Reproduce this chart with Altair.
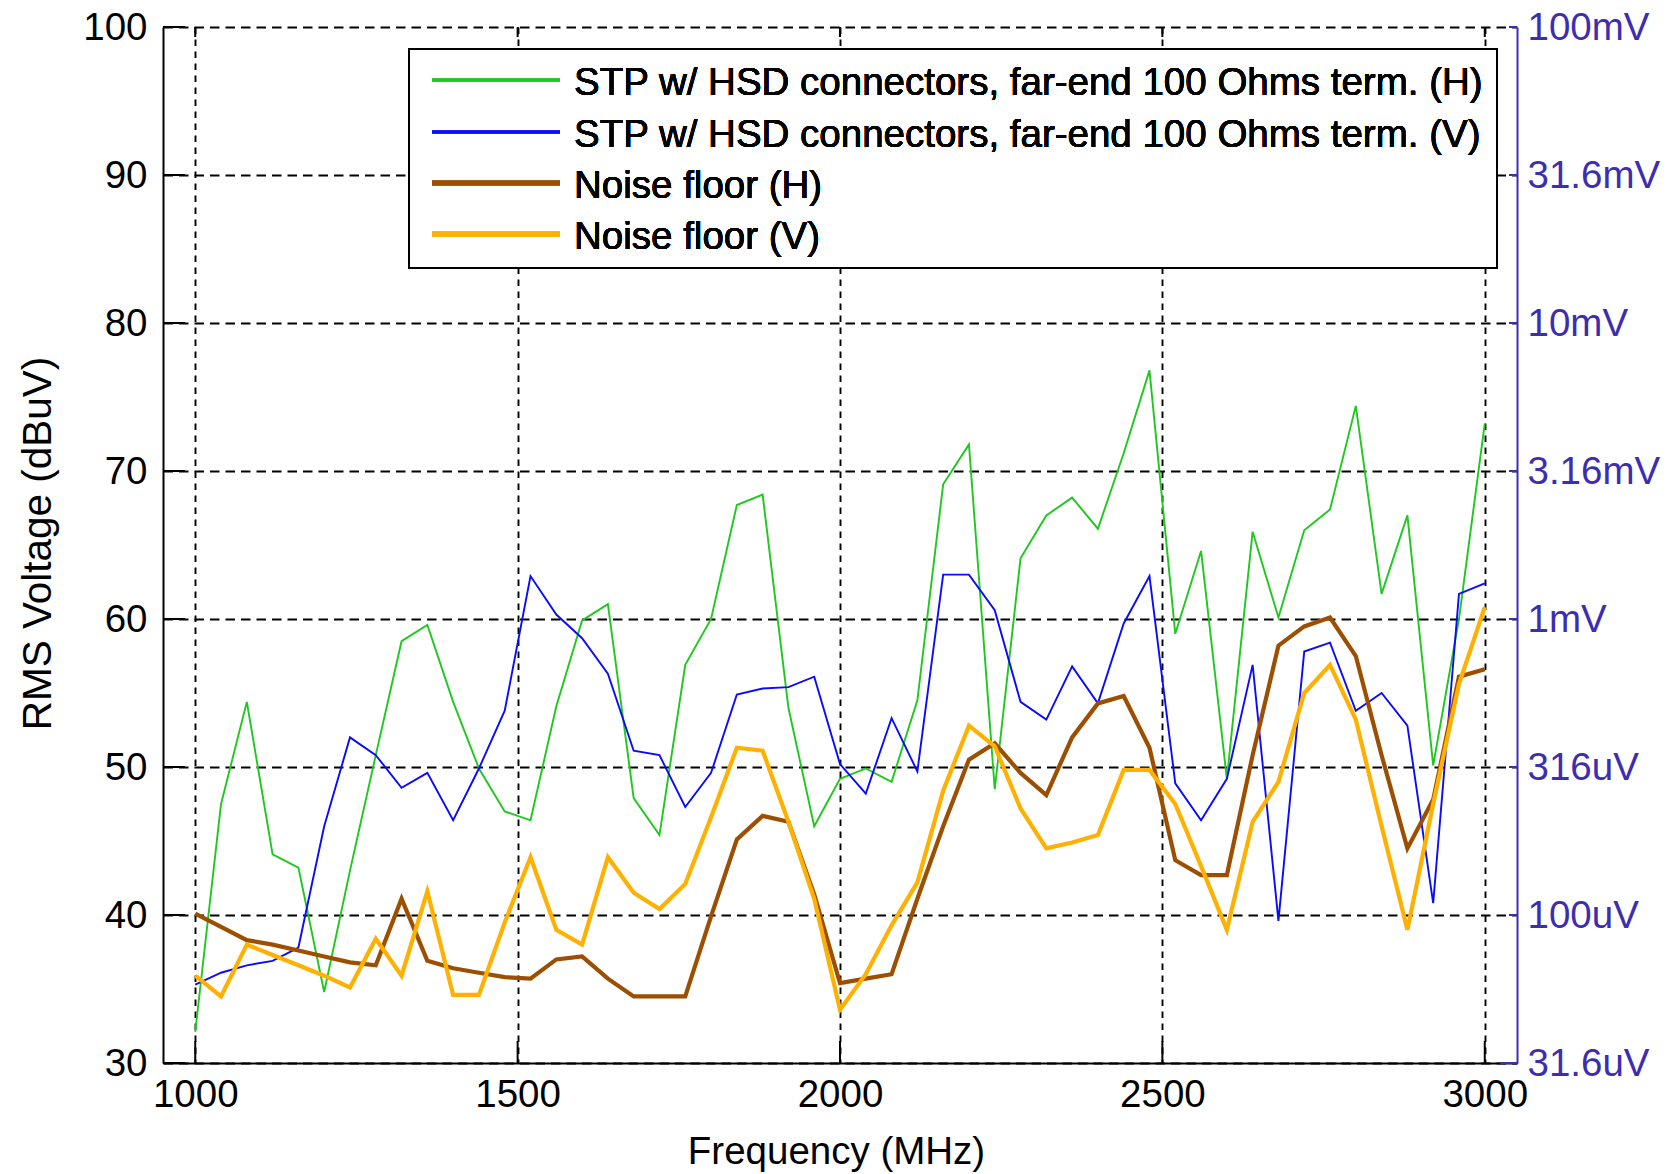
import altair as alt
import pandas as pd

# ---------------- data ----------------
freq_mhz = [1000, 1040, 1080, 1120, 1160, 1200, 1240, 1280, 1320, 1360,
            1400, 1440, 1480, 1520, 1560, 1600, 1640, 1680, 1720, 1760,
            1800, 1840, 1880, 1920, 1960, 2000, 2040, 2080, 2120, 2160,
            2200, 2240, 2280, 2320, 2360, 2400, 2440, 2480, 2520, 2560,
            2600, 2640, 2680, 2720, 2760, 2800, 2840, 2880, 2920, 2960, 3000]

stp_h = [32.1, 47.5, 54.4, 44.1, 43.2, 34.8, 43.0, 50.8, 58.5, 59.6,
         54.4, 49.9, 47.0, 46.4, 54.1, 59.9, 61.0, 47.9, 45.4, 56.9,
         60.0, 67.7, 68.4, 54.0, 46.0, 49.2, 49.9, 49.0, 54.5, 69.1,
         71.8, 48.5, 64.1, 67.0, 68.2, 66.1, 71.2, 76.8, 59.0, 64.6,
         49.2, 65.9, 60.1, 66.0, 67.4, 74.4, 61.7, 67.0, 50.1, 60.0, 73.2]

stp_v = [35.3, 36.1, 36.6, 36.9, 37.8, 46.0, 52.0, 50.8, 48.6, 49.6,
         46.4, 49.9, 53.8, 62.9, 60.3, 58.7, 56.3, 51.1, 50.8, 47.3,
         49.6, 54.9, 55.3, 55.4, 56.1, 50.2, 48.2, 53.3, 49.7, 63.0,
         63.0, 60.6, 54.4, 53.2, 56.8, 54.3, 59.7, 62.9, 48.9, 46.4,
         49.2, 56.9, 39.6, 57.8, 58.4, 53.8, 55.0, 52.8, 40.8, 61.7, 62.4]

noise_h = [40.1, 39.2, 38.3, 38.0, 37.6, 37.2, 36.8, 36.6, 41.1, 36.9,
           36.4, 36.1, 35.8, 35.7, 37.0, 37.2, 35.7, 34.5, 34.5, 34.5,
           39.9, 45.1, 46.7, 46.3, 41.4, 35.4, 35.7, 36.0, 41.1, 46.0,
           50.5, 51.6, 49.6, 48.1, 52.0, 54.3, 54.8, 51.3, 43.7, 42.7,
           42.7, 50.8, 58.2, 59.5, 60.1, 57.5, 50.8, 44.5, 47.8, 56.1, 56.6]

noise_v = [35.9, 34.5, 38.0, 37.3, 36.6, 35.9, 35.1, 38.4, 35.9, 41.6,
           34.6, 34.6, 39.5, 43.9, 39.0, 38.0, 43.9, 41.5, 40.4, 42.1,
           46.6, 51.3, 51.1, 46.3, 41.1, 33.6, 36.0, 39.3, 42.2, 48.4,
           52.8, 51.4, 47.2, 44.5, 44.9, 45.4, 49.8, 49.8, 47.5, 43.3,
           39.0, 46.3, 49.0, 55.0, 56.9, 53.2, 46.0, 39.0, 47.5, 55.6, 60.8]

series_names = [
    "STP w/ HSD connectors, far-end 100 Ohms term. (H)",
    "STP w/ HSD connectors, far-end 100 Ohms term. (V)",
    "Noise floor (H)",
    "Noise floor (V)",
]
series_values = [stp_h, stp_v, noise_h, noise_v]

y_ticks = [30, 40, 50, 60, 70, 80, 90, 100]
x_ticks = [1000, 1500, 2000, 2500, 3000]
right_labels = ["31.6uV", "100uV", "316uV", "1mV", "3.16mV", "10mV", "31.6mV", "100mV"]

# ---------------- style ----------------
series_colors = ["#1ec81e", "#0a0aff", "#9c4f00", "#ffb000"]
series_widths = [1.9, 1.9, 4.2, 4.2]
W, H = 1354, 1036
FONT = "Liberation Sans"
FS = 38.5
PURPLE = "#3d2db0"

x_scale = alt.Scale(domain=[950, 3050], nice=False, zero=False)
y_scale = alt.Scale(domain=[30, 100], nice=False, zero=False)

x_axis = alt.Axis(
    title="Frequency (MHz)", values=x_ticks, format="d",
    grid=True, gridDash=[6.5, 5.5], gridColor="black", gridWidth=1.9, gridOpacity=1,
    domain=True, domainColor="black", domainWidth=2,
    ticks=False, tickSize=0, labelPadding=13, labelFlush=False, labelOverlap=False,
    labelFont=FONT, labelFontSize=FS, labelColor="black",
    titleFont=FONT, titleFontSize=FS, titleFontWeight="normal", titleColor="black",
    titleX=673, titleY=100, titleAlign="center", titleBaseline="alphabetic",
)
y_axis = alt.Axis(
    title="RMS Voltage (dBuV)", values=y_ticks, format="d",
    grid=True, gridDash=[9.5, 6], gridColor="black", gridWidth=1.9, gridOpacity=1,
    domain=True, domainColor="black", domainWidth=2,
    ticks=False, tickSize=0, labelPadding=16, labelFlush=False, labelOverlap=False,
    labelFont=FONT, labelFontSize=FS, labelColor="black",
    titleFont=FONT, titleFontSize=40.5, titleFontWeight="normal", titleColor="black",
    titleAngle=270, titleX=-113, titleY=516, titleAlign="center", titleBaseline="alphabetic",
)

label_expr = ""
for v, lab in zip(y_ticks, right_labels):
    label_expr += f"datum.value == {v} ? '{lab}' : "
label_expr += "''"

right_axis = alt.Axis(
    orient="right", title=None, values=y_ticks,
    grid=False, domain=True, domainColor=PURPLE, domainWidth=2,
    ticks=False, tickSize=0, labelPadding=10, labelFlush=False, labelOverlap=False,
    labelExpr=label_expr, labelFont=FONT, labelFontSize=FS, labelColor=PURPLE,
)

df = pd.DataFrame({"freq": freq_mhz})
for i, vals in enumerate(series_values):
    df[f"s{i}"] = vals
yt = pd.DataFrame({"v": y_ticks})
xt = pd.DataFrame({"f": x_ticks})

layers = []
# tick marks (drawn inward)
layers.append(alt.Chart(yt).mark_rule(color="black", strokeWidth=2).encode(
    y=alt.Y("v:Q", scale=y_scale, axis=y_axis), x=alt.value(0), x2=alt.value(22)))
layers.append(alt.Chart(xt).mark_rule(color="black", strokeWidth=2).encode(
    x=alt.X("f:Q", scale=x_scale, axis=x_axis), y=alt.value(H - 22), y2=alt.value(H)))
layers.append(alt.Chart(xt).mark_rule(color="black", strokeWidth=2).encode(
    x=alt.X("f:Q", scale=x_scale, axis=x_axis), y=alt.value(0), y2=alt.value(10)))

# data lines
for i in range(4):
    layers.append(alt.Chart(df).mark_line(
        color=series_colors[i], strokeWidth=series_widths[i], strokeJoin="miter").encode(
        x=alt.X("freq:Q", scale=x_scale, axis=x_axis),
        y=alt.Y(f"s{i}:Q", scale=y_scale, axis=y_axis)))

# legend box
layers.append(alt.Chart(yt).mark_rect(fill="white", stroke="black", strokeWidth=2).encode(
    x=alt.value(246), x2=alt.value(1334), y=alt.value(22), y2=alt.value(241)))
row_line_y = [53, 105, 156, 207]
row_text_y = [68, 120, 171, 222]
for i in range(4):
    layers.append(alt.Chart(yt).mark_rule(color=series_colors[i],
                                          strokeWidth=series_widths[i] + 0.4).encode(
        x=alt.value(269), x2=alt.value(397), y=alt.value(row_line_y[i])))
    layers.append(alt.Chart(yt).mark_text(
        align="left", baseline="alphabetic", font=FONT, fontSize=FS, color="black").encode(
        x=alt.value(411), y=alt.value(row_text_y[i]), text=alt.value(series_names[i])))

# purple end of bottom axis
layers.append(alt.Chart(yt).mark_rule(color=PURPLE, strokeWidth=2).encode(
    x=alt.value(W - 17), x2=alt.value(W), y=alt.value(H)))

inner = alt.layer(*layers)

right = alt.Chart(yt).mark_rule(color=PURPLE, strokeWidth=2).encode(
    y=alt.Y("v:Q", scale=alt.Scale(domain=[30, 100], nice=False, zero=False), axis=right_axis),
    x=alt.value(W - 8), x2=alt.value(W))

chart = alt.layer(inner, right).resolve_scale(y="independent").properties(
    width=W, height=H,
    autosize=alt.AutoSizeParams(type="none"),
    padding={"left": 163, "top": 27, "right": 158, "bottom": 111},
    background="white",
).configure_view(stroke="transparent")

chart.save("out.html", embed_options={"renderer": "svg", "actions": False})
